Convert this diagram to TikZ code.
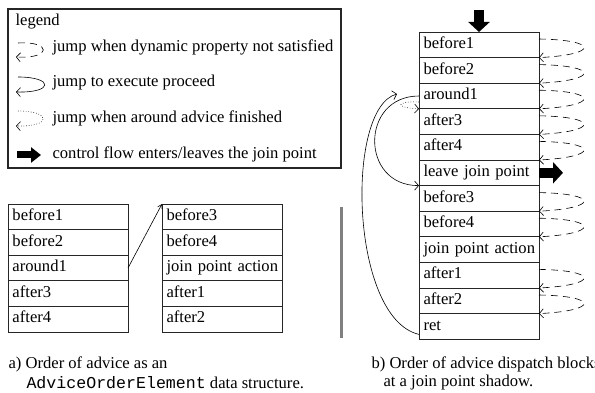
\documentclass[tikz,border=0pt]{standalone}
\usepackage{fontspec}
\setmainfont{Liberation Serif}
\setmonofont{Liberation Mono}
\usetikzlibrary{positioning,arrows.meta}
\tikzset{
  every node/.style={font=\fontsize{16.6pt}{19pt}\selectfont},
  blk/.style={draw=black!85, line width=0.8pt, outer sep=0pt, minimum height=25.6pt,
    text width=111pt, inner xsep=4.5pt, align=left, text height=11.5pt, text depth=4pt},
  dynjump/.style={dash pattern=on 7pt off 5pt, line width=0.6pt, -{Straight Barb[length=4pt,width=9pt]}},
  proceed/.style={line width=0.6pt, -{Straight Barb[length=4pt,width=9pt]}},
  aroundjump/.style={dotted, line width=0.6pt, -{Straight Barb[length=4pt,width=9pt]}},
  bigarrow/.style={line width=10pt, -{Triangle[length=10pt,width=21pt]}},
  legarrow/.style={line width=7pt, -{Triangle[length=10pt,width=15pt]}}
}
\begin{document}
\begin{tikzpicture}[x=1pt,y=-1pt,node distance=0pt]
\useasboundingbox (0,0) rectangle (595,393);
% legend
\node[draw=black!85, line width=1.3pt, outer sep=0pt, minimum width=333pt, minimum height=159pt, anchor=north west] (legend) at (8,9) {};
\node[anchor=west] (lgtitle) at (12,22) {legend};
\node[anchor=west] (lgdyn) at (49,47) {jump when dynamic property not satisfied};
\node[anchor=west] (lgproc) at (49,83) {jump to execute proceed};
\node[anchor=west] (lgaround) at (49,118) {jump when around advice finished};
\node[anchor=west] (lgflow) at (49,154) {control flow enters/leaves the join point};
\draw[dynjump] (18,43) .. controls (52,41) and (52,59) .. (16,57);
\draw[proceed] (18,77) .. controls (54,77) and (54,93) .. (16,92);
\draw[aroundjump] (18,111) .. controls (52,111) and (52,127) .. (16,126);
\draw[legarrow] (17,155) -- (41,155);
% a) advice order
\node[blk, anchor=north west] (l1) at (8,204) {before1};
\node[blk, below=of l1] (l2) {before2};
\node[blk, below=of l2] (l3) {around1};
\node[blk, below=of l3] (l4) {after3};
\node[blk, below=of l4] (l5) {after4};
\node[blk, anchor=north west] (r1) at (162,204) {before3};
\node[blk, below=of r1] (r2) {before4};
\node[blk, below=of r2] (r3) {\mbox{join point action}};
\node[blk, below=of r3] (r4) {after1};
\node[blk, below=of r4] (r5) {after2};
\draw[line width=0.6pt, -{Straight Barb[length=4pt,width=5pt]}] (l3.east) -- (r1.north west);
\fill[black!50] (340,207) rectangle (343,338);
\node[anchor=west] (capa) at (5,364) {a) Order of advice as an};
\node[anchor=west] (capa2) at (23,383) {{\ttfamily AdviceOrderElement} data structure.};
% b) dispatch blocks
\node[blk, anchor=north west] (d1) at (419,32) {before1};
\node[blk, below=of d1] (d2) {before2};
\node[blk, below=of d2] (d3) {around1};
\node[blk, below=of d3] (d4) {after3};
\node[blk, below=of d4] (d5) {after4};
\node[blk, below=of d5] (d6) {leave join point};
\node[blk, below=of d6] (d7) {before3};
\node[blk, below=of d7] (d8) {before4};
\node[blk, below=of d8] (d9) {\mbox{join point action}};
\node[blk, below=of d9] (d10) {after1};
\node[blk, below=of d10] (d11) {after2};
\node[blk, below=of d11] (d12) {ret};
\draw[dynjump] ([yshift=-7pt]d1.north east) .. controls +(60,1) and +(60,-3) .. (d1.south east);
\draw[dynjump] ([yshift=-7pt]d2.north east) .. controls +(60,1) and +(60,-3) .. (d2.south east);
\draw[dynjump] ([yshift=-7pt]d3.north east) .. controls +(60,1) and +(60,-3) .. (d3.south east);
\draw[dynjump] ([yshift=-7pt]d4.north east) .. controls +(60,1) and +(60,-3) .. (d4.south east);
\draw[dynjump] ([yshift=-7pt]d5.north east) .. controls +(60,1) and +(60,-3) .. (d5.south east);
\draw[dynjump] ([yshift=-7pt]d7.north east) .. controls +(60,1) and +(60,-3) .. (d7.south east);
\draw[dynjump] ([yshift=-7pt]d8.north east) .. controls +(60,1) and +(60,-3) .. (d8.south east);
\draw[dynjump] ([yshift=-7pt]d10.north east) .. controls +(60,1) and +(60,-3) .. (d10.south east);
\draw[dynjump] ([yshift=-7pt]d11.north east) .. controls +(60,1) and +(60,-3) .. (d11.south east);
\draw[proceed] (d3.west) .. controls +(-59,0) and +(-59,0) .. (d7.north west);
\coordinate (retend) at (397,94);
\draw[proceed] ([yshift=-8pt]d12.west) .. controls +(-69,-16) and +(-52,14) .. (retend);
\draw[aroundjump] ([yshift=-6pt]d3.west) .. controls +(-24,-1) and +(-24,-1) .. (d3.south west);
\draw[bigarrow] ([yshift=22pt]d1.north) -- (d1.north);
\draw[bigarrow] (d6.east) -- +(24,0);
\node[anchor=west] (capb) at (368,364) {b) Order of advice dispatch blocks};
\node[anchor=west] (capb2) at (380,383) {at a join point shadow.};
\end{tikzpicture}
\end{document}
